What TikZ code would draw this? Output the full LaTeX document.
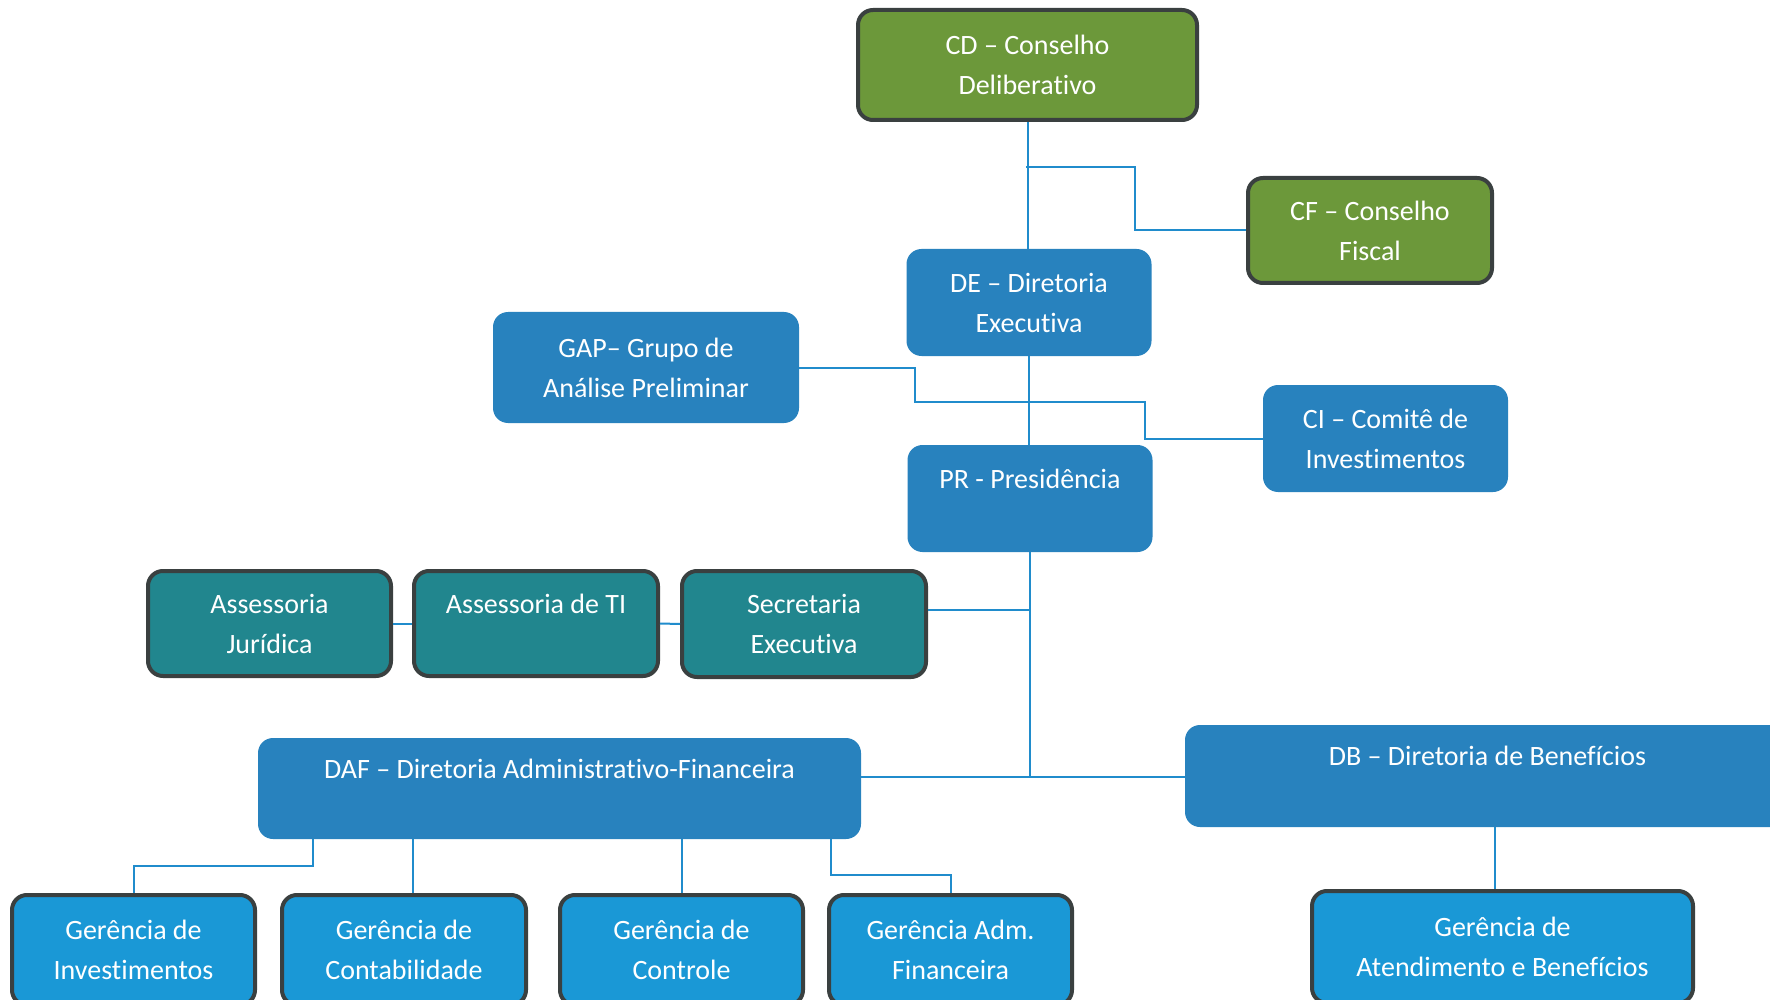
\documentclass[tikz,border=0pt]{standalone}
\usepackage{fontspec}
\setmainfont{Carlito}[Ligatures=NoCommon]
\usetikzlibrary{calc}
\definecolor{cdgreen}{RGB}{108,152,58}
\definecolor{teal2}{RGB}{33,134,142}
\definecolor{midblue}{RGB}{40,130,190}
\definecolor{brightblue}{RGB}{26,152,214}
\definecolor{bordergray}{RGB}{58,64,64}
\definecolor{linkblue}{RGB}{32,140,204}
\tikzset{
  base/.style={rectangle, rounded corners=15pt, text=white, align=center, inner sep=0pt,
    font=\fontsize{28}{40}\selectfont},
  greenbox/.style={base, fill=cdgreen, draw=bordergray, line width=4pt},
  tealbox/.style={base, fill=teal2, draw=bordergray, line width=4pt},
  bluebox/.style={base, fill=midblue},
  gerbox/.style={base, fill=brightblue, draw=bordergray, line width=4pt},
  link/.style={draw=linkblue, line width=2pt}
}
\begin{document}
\begin{tikzpicture}[x=1pt,y=-1pt]
\useasboundingbox (0,0) rectangle (1770,1000);
\clip (0,0) rectangle (1770,1000);
\fill[white] (0,0) rectangle (1770,1000);
% nodes
\node[greenbox, minimum width=339pt, minimum height=110pt] (CD) at (1027.5,65) {CD – Conselho\\Deliberativo};
\node[greenbox, minimum width=244pt, minimum height=105pt] (CF) at (1370,230.5) {CF – Conselho\\Fiscal};
\node[bluebox, minimum width=245pt, minimum height=107pt] (DE) at (1029,302.5) {DE – Diretoria\\Executiva};
\node[bluebox, minimum width=306pt, minimum height=111pt] (GAP) at (646,367.5) {GAP– Grupo de\\Análise Preliminar};
\node[bluebox, minimum width=245pt, minimum height=107pt] (CI) at (1385.5,438.5) {CI – Comitê de\\Investimentos};
\node[bluebox, minimum width=245pt, minimum height=107pt] (PR) at (1030,498.5) {PR - Presidência\\~};
\node[tealbox, minimum width=243pt, minimum height=105pt] (AJ) at (269.5,623.5) {Assessoria\\Jurídica};
\node[tealbox, minimum width=244pt, minimum height=105pt] (ATI) at (536,623.5) {Assessoria de TI\\~};
\node[tealbox, minimum width=244pt, minimum height=106pt] (SE) at (804,624) {Secretaria\\Executiva};
\node[bluebox, minimum width=603pt, minimum height=101pt] (DAF) at (559.5,788.5) {DAF – Diretoria Administrativo-Financeira\\~};
\node[bluebox, minimum width=605pt, minimum height=102pt] (DB) at (1487.5,776) {DB – Diretoria de Benefícios\\~};
\node[gerbox, minimum width=243pt, minimum height=110pt] (GI) at (133.5,950) {Gerência de\\Investimentos};
\node[gerbox, minimum width=244pt, minimum height=110pt] (GC) at (404,950) {Gerência de\\Contabilidade};
\node[gerbox, minimum width=243pt, minimum height=110pt] (GCT) at (681.5,950) {Gerência de\\Controle};
\node[gerbox, minimum width=243pt, minimum height=110pt] (GAF) at (950.5,950) {Gerência Adm.\\Financeira};
\node[gerbox, minimum width=381pt, minimum height=112pt] (GAB) at (1502.5,947) {Gerência de\\Atendimento e Benefícios};
% connectors
\coordinate (j1) at (1026,167);
\draw[link] (CD.south) -- (CD.south |- DE.north);
\draw[link] (j1) -| ($(CF.west)+(-111pt,0)$) -- (CF.west);
\draw[link] (GAP.east) -| (915,402) -| ($(CI.west)+(-118pt,0)$) -- (CI.west);
\draw[link] (DE.south) -- (DE.south |- PR.north);
\coordinate (bus) at (1030,777);
\coordinate (sej) at (1030,610);
\draw[link] (PR.south) -- (bus);
\draw[link] ($(DAF.east)+(0,11.5pt)$) -- (bus) -- (DB.west |- bus);
\draw[link] ($(SE.east)+(0,14pt)$) -- (sej);
\draw[link] (AJ.east) -- (ATI.west);
\draw[link] (ATI.east) -- (SE.west);
\draw[link] ($(DAF.south)+(-246.5pt,0)$) -- ++(0,-27pt) -| (GI.north);
\draw[link] ($(DAF.south -| GC.north)+(9pt,0)$) -- ($(GC.north)+(9pt,0)$);
\draw[link] (DAF.south -| GCT.north) -- (GCT.north);
\draw[link] ($(DAF.south)+(271.5pt,0)$) -- ++(0,-36pt) -| (GAF.north);
\draw[link] ($(DB.south)+(7.5pt,0)$) -- ($(GAB.north)+(-7.5pt,0)$);
\end{tikzpicture}
\end{document}
